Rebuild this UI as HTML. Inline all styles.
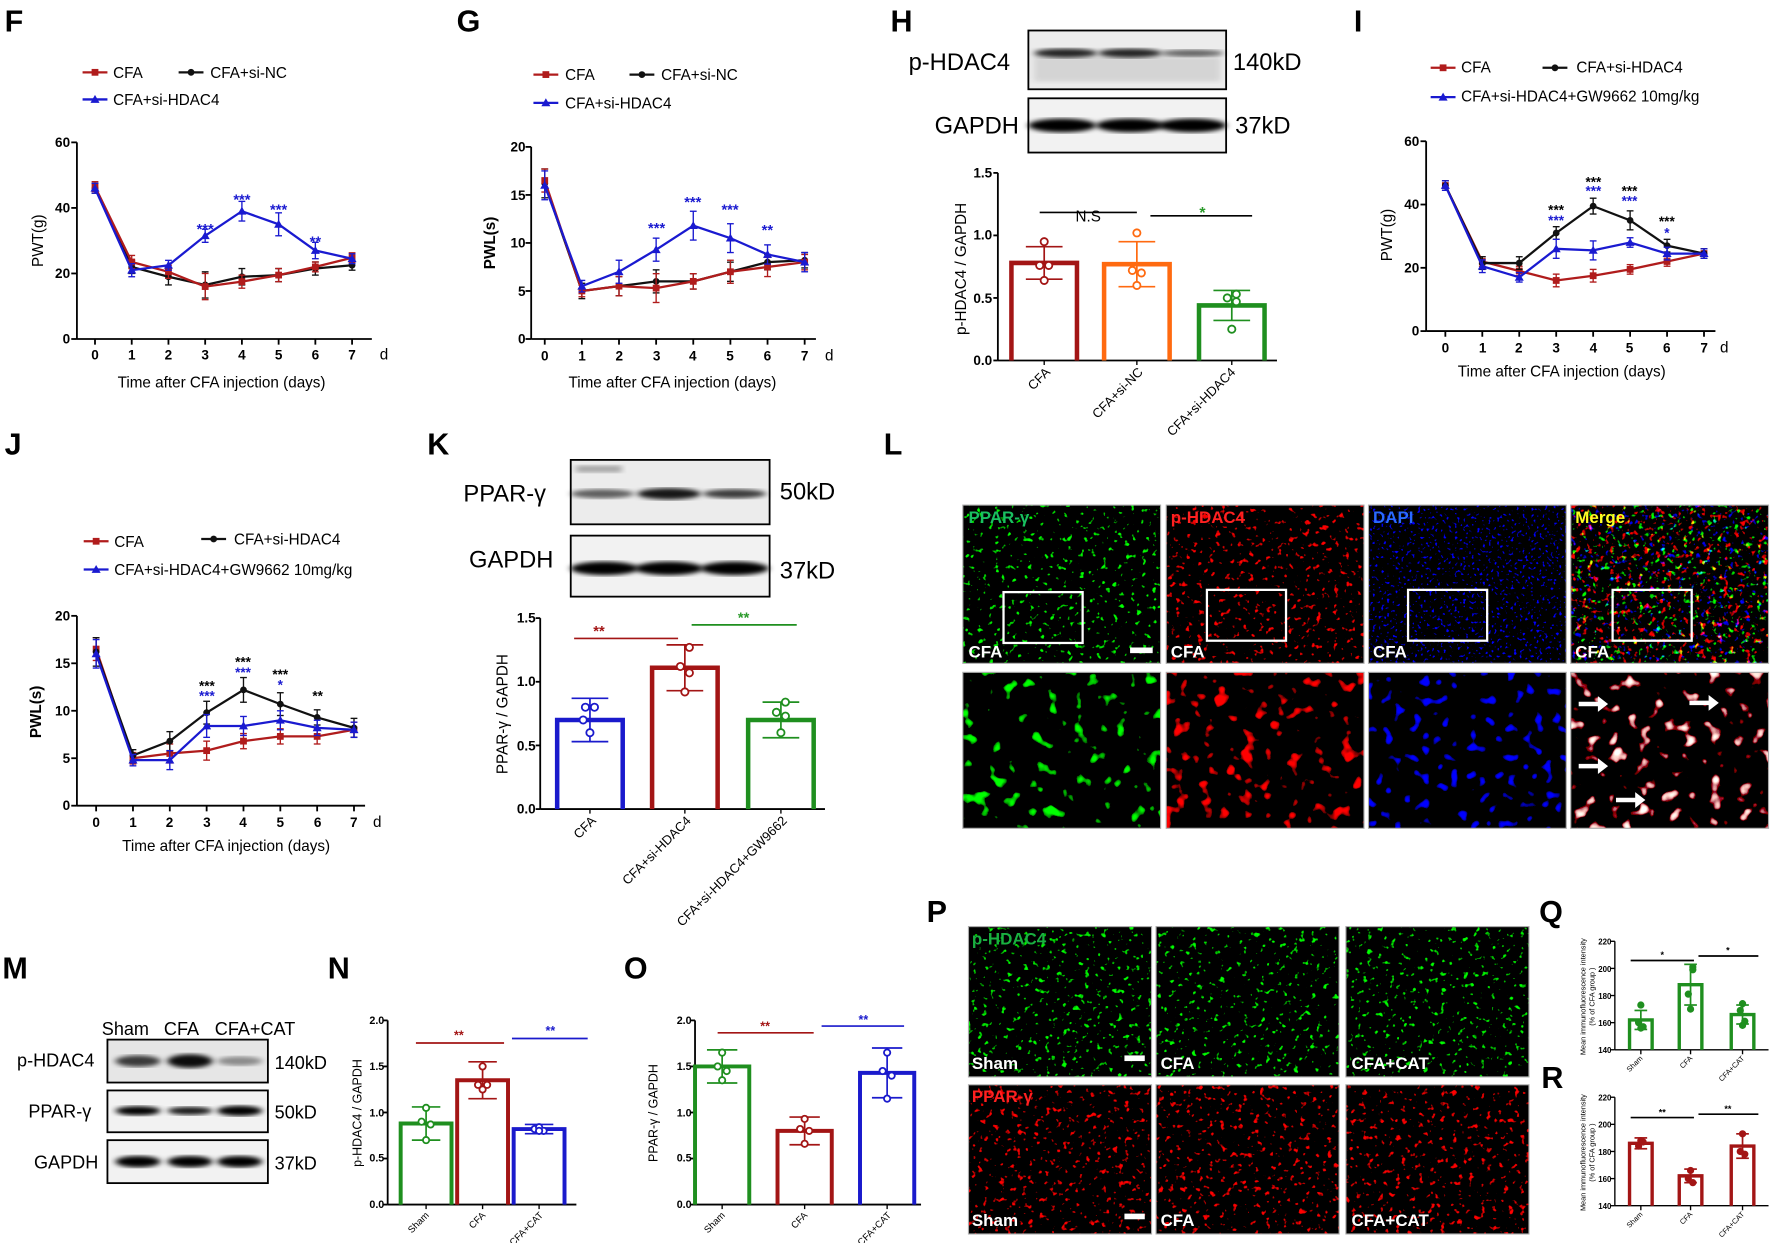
<!DOCTYPE html>
<html><head><meta charset="utf-8"><style>
html,body{margin:0;padding:0;background:#fff}
svg{display:block}
text{font-family:"Liberation Sans",Arial,sans-serif}
.L{font-size:27px;font-weight:bold}
.t{font-size:12px;font-weight:bold}
.lg{font-size:13.5px}
.ti{font-size:13.5px}
.bl{font-size:21px}
.xl{font-size:11.5px}
.im{font-weight:bold;font-size:15px}
</style></head><body>
<svg id="s" width="1772" height="1243" viewBox="0 0 1568 1100" xmlns="http://www.w3.org/2000/svg">
<defs>
<filter id="fG" x="0" y="0" width="100%" height="100%"><feTurbulence type="fractalNoise" baseFrequency="0.2" numOctaves="2" seed="2"/><feColorMatrix type="matrix" values="0 0 0 0 0  8 0 0 0 -5.3  0 0 0 0 0  0 0 0 0 1"/></filter>
<filter id="fR" x="0" y="0" width="100%" height="100%"><feTurbulence type="fractalNoise" baseFrequency="0.2" numOctaves="2" seed="5"/><feColorMatrix type="matrix" values="8 0 0 0 -5.2  0 0 0 0 0  0 0 0 0 0  0 0 0 0 1"/></filter>
<filter id="fB" x="0" y="0" width="100%" height="100%"><feTurbulence type="fractalNoise" baseFrequency="0.4" numOctaves="1" seed="7"/><feColorMatrix type="matrix" values="0 0 0 0 0  0 0 0 0 0  9 0 0 0 -5.6  0 0 0 0 1"/></filter>
<filter id="fM" x="0" y="0" width="100%" height="100%"><feTurbulence type="fractalNoise" baseFrequency="0.2" numOctaves="2" seed="9"/><feColorMatrix type="matrix" values="7 0 0 0 -4.4  0 7 0 0 -4.6  0 0 7 0 -4.7  0 0 0 0 1"/></filter>
<filter id="fB2" x="0" y="0" width="100%" height="100%"><feTurbulence type="fractalNoise" baseFrequency="0.12" numOctaves="1" seed="4"/><feColorMatrix type="matrix" values="0 0 0 0 0  0 0 0 0 0  10 0 0 0 -6.2  0 0 0 0 1"/></filter>
<filter id="fG2" x="0" y="0" width="100%" height="100%"><feTurbulence type="fractalNoise" baseFrequency="0.08" numOctaves="2" seed="3"/><feColorMatrix type="matrix" values="0 0 0 0 0  9 0 0 0 -5.8  0 0 0 0 0  0 0 0 0 1"/></filter>
<filter id="fR2" x="0" y="0" width="100%" height="100%"><feTurbulence type="fractalNoise" baseFrequency="0.08" numOctaves="2" seed="6"/><feColorMatrix type="matrix" values="9 0 0 0 -5.6  0 0 0 0 0  0 0 0 0 0  0 0 0 0 1"/></filter>
<filter id="fM2" x="0" y="0" width="100%" height="100%"><feTurbulence type="fractalNoise" baseFrequency="0.08" numOctaves="2" seed="8"/><feColorMatrix type="matrix" values="8 0 0 0 -4.9  7 0 0 0 -4.6  6 0 0 0 -3.9  0 0 0 0 1"/></filter>
<filter id="bl"><feGaussianBlur stdDeviation="3 2"/></filter>
</defs>
<g id="g"></g>
<text class="L" x="4" y="28">F</text><text class="L" x="404" y="28">G</text><text class="L" x="788" y="28">H</text><text class="L" x="1198" y="28">I</text>
<text class="L" x="4" y="402">J</text><text class="L" x="378" y="402">K</text><text class="L" x="782" y="402">L</text>
<text class="L" x="2" y="866">M</text><text class="L" x="290" y="866">N</text><text class="L" x="552" y="866">O</text><text class="L" x="820" y="816">P</text><text class="L" x="1362" y="816">Q</text><text class="L" x="1364" y="963">R</text>
<!-- F -->
<text class="lg" x="100" y="69">CFA</text><text class="lg" x="186" y="69">CFA+si-NC</text><text class="lg" x="100" y="93">CFA+si-HDAC4</text>
<g class="t" text-anchor="end"><text x="62" y="130">60</text><text x="62" y="188">40</text><text x="62" y="246">20</text><text x="62" y="304">0</text></g>
<g class="t" text-anchor="middle"><text x="84" y="318">0</text><text x="116.5" y="318">1</text><text x="149" y="318">2</text><text x="181.5" y="318">3</text><text x="214" y="318">4</text><text x="246.5" y="318">5</text><text x="279" y="318">6</text><text x="311.5" y="318">7</text></g>
<text class="lg" x="336" y="318">d</text>
<text class="ti" x="196" y="343" text-anchor="middle">Time after CFA injection (days)</text>
<text class="lg" transform="translate(38,213) rotate(-90)" text-anchor="middle">PWT(g)</text>
<g fill="#1a1ad0" font-size="13" font-weight="bold" text-anchor="middle"><text x="181.5" y="207">***</text><text x="214" y="181">***</text><text x="246.5" y="190">***</text><text x="279" y="218">**</text></g>
<!-- G -->
<text class="lg" x="500" y="71">CFA</text><text class="lg" x="585" y="71">CFA+si-NC</text><text class="lg" x="500" y="96">CFA+si-HDAC4</text>
<g class="t" text-anchor="end"><text x="465" y="134">20</text><text x="465" y="177">15</text><text x="465" y="219">10</text><text x="465" y="262">5</text><text x="465" y="304">0</text></g>
<g class="t" text-anchor="middle"><text x="482" y="319">0</text><text x="515" y="319">1</text><text x="548" y="319">2</text><text x="581" y="319">3</text><text x="613" y="319">4</text><text x="646" y="319">5</text><text x="679" y="319">6</text><text x="712" y="319">7</text></g>
<text class="lg" x="730" y="319">d</text>
<text class="ti" x="595" y="343" text-anchor="middle">Time after CFA injection (days)</text>
<text class="lg" font-weight="bold" transform="translate(438,215) rotate(-90)" text-anchor="middle">PWL(s)</text>
<g fill="#1a1ad0" font-size="13" font-weight="bold" text-anchor="middle"><text x="581" y="206">***</text><text x="613" y="183">***</text><text x="646" y="190">***</text><text x="679" y="208">**</text></g>
<!-- H -->
<text class="bl" x="804" y="62">p-HDAC4</text><text class="bl" x="1091" y="62">140kD</text><text class="bl" x="827" y="118">GAPDH</text><text class="bl" x="1093" y="118">37kD</text>
<g class="t" text-anchor="end"><text x="878" y="157">1.5</text><text x="878" y="212">1.0</text><text x="878" y="268">0.5</text><text x="878" y="323">0.0</text></g>
<text class="ti" transform="translate(855,238) rotate(-90)" text-anchor="middle">p-HDAC4 / GAPDH</text>
<g class="xl" text-anchor="end"><text transform="translate(930,330) rotate(-45)">CFA</text><text transform="translate(1012,330) rotate(-45)">CFA+si-NC</text><text transform="translate(1094,330) rotate(-45)">CFA+si-HDAC4</text></g>
<text class="lg" x="963" y="196" text-anchor="middle">N.S</text><text x="1064" y="193" fill="#2a9a2a" font-weight="bold" font-size="14" text-anchor="middle">*</text>
<!-- I -->
<text class="lg" x="1293" y="64">CFA</text><text class="lg" x="1395" y="64">CFA+si-HDAC4</text><text class="lg" x="1293" y="90">CFA+si-HDAC4+GW9662 10mg/kg</text>
<g class="t" text-anchor="end"><text x="1256" y="129">60</text><text x="1256" y="185">40</text><text x="1256" y="241">20</text><text x="1256" y="297">0</text></g>
<g class="t" text-anchor="middle"><text x="1279" y="312">0</text><text x="1312" y="312">1</text><text x="1344" y="312">2</text><text x="1377" y="312">3</text><text x="1410" y="312">4</text><text x="1442" y="312">5</text><text x="1475" y="312">6</text><text x="1508" y="312">7</text></g>
<text class="lg" x="1522" y="312">d</text>
<text class="ti" x="1382" y="333" text-anchor="middle">Time after CFA injection (days)</text>
<text class="lg" transform="translate(1232,208) rotate(-90)" text-anchor="middle">PWT(g)</text>
<g font-size="12" font-weight="bold" text-anchor="middle"><text x="1377" y="190">***</text><text x="1410" y="165">***</text><text x="1442" y="173">***</text><text x="1475" y="200">***</text></g>
<g fill="#1a1ad0" font-size="12" font-weight="bold" text-anchor="middle"><text x="1377" y="199">***</text><text x="1410" y="173">***</text><text x="1442" y="182">***</text><text x="1475" y="210">*</text></g>
<!-- J -->
<text class="lg" x="101" y="484">CFA</text><text class="lg" x="207" y="482">CFA+si-HDAC4</text><text class="lg" x="101" y="509">CFA+si-HDAC4+GW9662 10mg/kg</text>
<g class="t" text-anchor="end"><text x="62" y="549">20</text><text x="62" y="591">15</text><text x="62" y="633">10</text><text x="62" y="675">5</text><text x="62" y="717">0</text></g>
<g class="t" text-anchor="middle"><text x="85" y="732">0</text><text x="117.6" y="732">1</text><text x="150" y="732">2</text><text x="183" y="732">3</text><text x="215" y="732">4</text><text x="248" y="732">5</text><text x="281" y="732">6</text><text x="313" y="732">7</text></g>
<text class="lg" x="330" y="732">d</text>
<text class="ti" x="200" y="753" text-anchor="middle">Time after CFA injection (days)</text>
<text class="lg" font-weight="bold" transform="translate(36,630) rotate(-90)" text-anchor="middle">PWL(s)</text>
<g font-size="12" font-weight="bold" text-anchor="middle"><text x="183" y="611">***</text><text x="215" y="590">***</text><text x="248" y="601">***</text><text x="281" y="620">**</text></g>
<g fill="#1a1ad0" font-size="12" font-weight="bold" text-anchor="middle"><text x="183" y="620">***</text><text x="215" y="599">***</text><text x="248" y="610">*</text></g>
<!-- K -->
<text class="bl" x="410" y="444">PPAR-γ</text><text class="bl" x="690" y="442">50kD</text><text class="bl" x="415" y="502">GAPDH</text><text class="bl" x="690" y="512">37kD</text>
<g class="t" text-anchor="end"><text x="474" y="551">1.5</text><text x="474" y="607">1.0</text><text x="474" y="664">0.5</text><text x="474" y="720">0.0</text></g>
<text class="ti" transform="translate(449,632) rotate(-90)" text-anchor="middle">PPAR-γ / GAPDH</text>
<g class="xl" text-anchor="end"><text transform="translate(528,727) rotate(-45)">CFA</text><text transform="translate(612,727) rotate(-45)">CFA+si-HDAC4</text><text transform="translate(697,727) rotate(-45)">CFA+si-HDAC4+GW9662</text></g>
<text x="530" y="563" fill="#a31515" font-weight="bold" font-size="13" text-anchor="middle">**</text><text x="658" y="551" fill="#2a9a2a" font-weight="bold" font-size="13" text-anchor="middle">**</text>
<!-- M -->
<g font-size="16"><text x="90" y="916">Sham</text><text x="145" y="916">CFA</text><text x="190" y="916">CFA+CAT</text>
<text x="15" y="944">p-HDAC4</text><text x="25" y="989">PPAR-γ</text><text x="30" y="1034">GAPDH</text>
<text x="243" y="946">140kD</text><text x="243" y="990">50kD</text><text x="243" y="1035">37kD</text></g>
<!-- N -->
<g font-size="9.5" font-weight="bold" text-anchor="end"><text x="340" y="906">2.0</text><text x="340" y="947">1.5</text><text x="340" y="988">1.0</text><text x="340" y="1028">0.5</text><text x="340" y="1069">0.0</text></g>
<text font-size="11" transform="translate(320,985) rotate(-90)" text-anchor="middle">p-HDAC4 / GAPDH</text>
<g font-size="8.5" text-anchor="end"><text transform="translate(380,1076) rotate(-45)">Sham</text><text transform="translate(430,1076) rotate(-45)">CFA</text><text transform="translate(481,1076) rotate(-45)">CFA+CAT</text></g>
<text x="406" y="920" fill="#a31515" font-weight="bold" font-size="11" text-anchor="middle">**</text><text x="487" y="916" fill="#1a1acc" font-weight="bold" font-size="11" text-anchor="middle">**</text>
<!-- O -->
<g font-size="9.5" font-weight="bold" text-anchor="end"><text x="612" y="906">2.0</text><text x="612" y="947">1.5</text><text x="612" y="988">1.0</text><text x="612" y="1028">0.5</text><text x="612" y="1069">0.0</text></g>
<text font-size="11" transform="translate(582,985) rotate(-90)" text-anchor="middle">PPAR-γ / GAPDH</text>
<g font-size="8.5" text-anchor="end"><text transform="translate(642,1076) rotate(-45)">Sham</text><text transform="translate(715,1076) rotate(-45)">CFA</text><text transform="translate(789,1076) rotate(-45)">CFA+CAT</text></g>
<text x="677" y="912" fill="#a31515" font-weight="bold" font-size="11" text-anchor="middle">**</text><text x="764" y="906" fill="#1a1acc" font-weight="bold" font-size="11" text-anchor="middle">**</text>
<!-- Q R -->
<g font-size="7" font-weight="bold" text-anchor="end"><text x="1426" y="836">220</text><text x="1426" y="860">200</text><text x="1426" y="884">180</text><text x="1426" y="908">160</text><text x="1426" y="932">140</text>
<text x="1426" y="974">220</text><text x="1426" y="998">200</text><text x="1426" y="1022">180</text><text x="1426" y="1046">160</text><text x="1426" y="1070">140</text></g>
<g font-size="6.5" text-anchor="middle"><text transform="translate(1403,882) rotate(-90)">Mean immunofluorescence intensity</text><text transform="translate(1411,882) rotate(-90)">(% of CFA group )</text>
<text transform="translate(1403,1020) rotate(-90)">Mean immunofluorescence intensity</text><text transform="translate(1411,1020) rotate(-90)">(% of CFA group )</text></g>
<g font-size="6.5" text-anchor="end"><text transform="translate(1454,937) rotate(-45)">Sham</text><text transform="translate(1498,937) rotate(-45)">CFA</text><text transform="translate(1544,937) rotate(-45)">CFA+CAT</text>
<text transform="translate(1454,1075) rotate(-45)">Sham</text><text transform="translate(1498,1075) rotate(-45)">CFA</text><text transform="translate(1544,1075) rotate(-45)">CFA+CAT</text></g>
<g font-size="8" font-weight="bold" text-anchor="middle"><text x="1471" y="848">*</text><text x="1529" y="844">*</text><text x="1471" y="987">**</text><text x="1529" y="984">**</text></g>
<g id="top"></g>
<g class="im" fill="#fff"><text x="857" y="582">CFA</text><text x="1036" y="582">CFA</text><text x="1215" y="582">CFA</text><text x="1394" y="582">CFA</text></g>
<g class="im"><text x="857" y="463" fill="#19c060">PPAR-γ</text><text x="1036" y="463" fill="#ff2020">p-HDAC4</text><text x="1215" y="463" fill="#2a6aff">DAPI</text><text x="1394" y="463" fill="#ffff20">Merge</text>
<text x="860" y="836" fill="#19b040">p-HDAC4</text><text x="860" y="975" fill="#ff2020">PPAR-γ</text></g>
<g class="im" fill="#fff"><text x="860" y="946">Sham</text><text x="1027" y="946">CFA</text><text x="1196" y="946">CFA+CAT</text><text x="860" y="1085">Sham</text><text x="1027" y="1085">CFA</text><text x="1196" y="1085">CFA+CAT</text></g>
</svg>
<script>
var NS="http://www.w3.org/2000/svg",G=document.getElementById('g'),T=document.getElementById('top');
function el(t,a,p){var e=document.createElementNS(NS,t);for(var k in a)e.setAttribute(k,a[k]);(p||G).appendChild(e);return e;}
function ln(x1,y1,x2,y2,c,w,p){el('line',{x1:x1,y1:y1,x2:x2,y2:y2,stroke:c||'#000','stroke-width':w||1.6},p);}
var R='#b01c1c',K='#111',B='#1a1ad0';
function mk(x,y,c,m){if(m=='s')el('rect',{x:x-3,y:y-3,width:6,height:6,fill:c});else if(m=='c')el('circle',{cx:x,cy:y,r:3,fill:c});else el('path',{d:'M'+x+' '+(y-4)+'L'+(x+4)+' '+(y+3)+'L'+(x-4)+' '+(y+3)+'Z',fill:c});}
function lc(o){ln(o.ax,o.yt,o.ax,o.y0);ln(o.ax,o.y0,o.end,o.y0);
 for(var i=0;i<=o.nt;i++){var y=o.y0-(o.y0-o.yt)*i/o.nt;ln(o.ax-5,y,o.ax,y);}
 for(i=0;i<8;i++){var x=o.x0+o.dx*i;ln(x,o.y0,x,o.y0+5);}
 var sc=(o.y0-o.yt)/o.vm;
 o.s.forEach(function(s){var pts=s.v.map(function(v,i){return [o.x0+o.dx*i,o.y0-v*sc];});
  pts.forEach(function(p,i){var e=(s.e?s.e[i]:1.5)*sc;ln(p[0],p[1]-e,p[0],p[1]+e,s.c,1.2);ln(p[0]-3,p[1]-e,p[0]+3,p[1]-e,s.c,1.2);ln(p[0]-3,p[1]+e,p[0]+3,p[1]+e,s.c,1.2);});
  el('polyline',{points:pts.map(function(p){return p.join(',')}).join(' '),fill:'none',stroke:s.c,'stroke-width':2});
  pts.forEach(function(p){mk(p[0],p[1],s.c,s.m);});});}
function leg(x,y,c,m){ln(x,y,x+22,y,c,2);mk(x+11,y,c,m);}
lc({ax:68,yt:126,y0:300,x0:84,dx:32.5,end:329,nt:3,vm:60,s:[
{c:K,m:'c',v:[46,22,19,16.5,19,19.5,21.5,22.5],e:[1.5,2,2.5,4,2.5,2,2,1.5]},
{c:R,m:'s',v:[46.5,23.5,20.5,16,17.5,19.5,22,24.8],e:[1.5,2,2,4,2,2,1.5,1.5]},
{c:B,m:'t',v:[46,21,22.5,31.5,39,35,27,24.5],e:[1.5,2,1.5,2,3,3.5,2.5,1.5]}]});
leg(73,64,R,'s');leg(158,64,K,'c');leg(73,88,B,'t');
lc({ax:470,yt:130,y0:300,x0:482,dx:32.86,end:722,nt:4,vm:20,s:[
{c:K,m:'c',v:[16.2,5,5.5,6,6,7,8,8.2],e:[1.5,.8,1,1.2,.8,1,.8,.8]},
{c:R,m:'s',v:[16.5,5,5.5,5.3,6,7,7.5,8],e:[1.2,.6,1,1.5,.8,1.2,1,.8]},
{c:B,m:'t',v:[16,5.5,7,9.3,11.8,10.5,8.8,8],e:[1.5,.6,1.2,1.2,1.5,1.5,1,1]}]});
leg(472,66,R,'s');leg(557,66,K,'c');leg(472,91,B,'t');
lc({ax:1262,yt:125,y0:293,x0:1279,dx:32.7,end:1518,nt:3,vm:60,s:[
{c:R,m:'s',v:[46,22,19,16,17.5,19.5,22,24.5],e:[1.5,1.5,1.5,2,2,1.5,1.5,1.5]},
{c:K,m:'c',v:[46,21.5,21.5,31,39.5,35,27,24.5],e:[1.5,2,2,2,2.5,3,2,1.5]},
{c:B,m:'t',v:[46,20.5,17,26,25.5,28,24.5,24.5],e:[1.5,2,1.5,3,3,1.5,2,1.5]}]});
leg(1266,60,R,'s');leg(1365,60,K,'c');leg(1266,86,B,'t');
lc({ax:68,yt:545,y0:713,x0:85,dx:32.6,end:323,nt:4,vm:20,s:[
{c:R,m:'s',v:[16.5,5,5.5,5.8,6.8,7.3,7.3,8],e:[1.2,.6,1,1,.8,.8,.8,.8]},
{c:K,m:'c',v:[16.2,5.3,6.8,9.8,12.2,10.7,9.3,8.2],e:[1.5,.6,1,1.2,1.3,1.2,.8,1]},
{c:B,m:'t',v:[16,4.8,4.8,8.4,8.4,9,8.2,8],e:[1.5,.6,1,1.2,1,1,.8,.8]}]});
leg(74,479,R,'s');leg(178,477,K,'c');leg(74,504,B,'t');
function bc(o){ln(o.ax,o.yt,o.ax,o.y0,'#000',o.lw||1.6);ln(o.ax,o.y0,o.end,o.y0,'#000',o.lw||1.6);
 for(var i=0;i<=o.nt;i++){var y=o.y0-(o.y0-o.yt)*i/o.nt;ln(o.ax-4,y,o.ax,y,'#000',o.lw||1.6);}
 var sc=(o.y0-o.yt)/(o.vm-o.vmin);
 o.b.forEach(function(b){var y=o.y0-(b.v-o.vmin)*sc,sw=o.sw||4;
  el('path',{d:'M'+(b.x-o.w/2)+' '+o.y0+'V'+y+'H'+(b.x+o.w/2)+'V'+o.y0,fill:'none',stroke:b.c,'stroke-width':sw});
  var e=b.e*sc;ln(b.x,y-e,b.x,y+e,b.c,1.5);ln(b.x-o.w*0.28,y-e,b.x+o.w*0.28,y-e,b.c,1.5);ln(b.x-o.w*0.28,y+e,b.x+o.w*0.28,y+e,b.c,1.5);
  ln(b.x,o.y0,b.x,o.y0+4,'#000',1.2);
  b.p.forEach(function(p){el('circle',{cx:b.x+p[0],cy:o.y0-(p[1]-o.vmin)*sc,r:o.r||3.2,fill:o.fill?b.c:'#fff',stroke:b.c,'stroke-width':1.6});});});
 (o.sig||[]).forEach(function(s){ln(s[0],s[2],s[1],s[2],s[3],1.5);});}
var DR='#a31515',OR='#ff6a10',GR='#1f8f1f',BL='#1a1acc';
bc({ax:883,yt:153,y0:319,vmin:0,vm:1.5,nt:3,end:1130,w:58,b:[
{x:924,v:.78,e:.13,c:DR,p:[[0,.95],[-4,.76],[4,.76],[0,.64]]},
{x:1006,v:.77,e:.18,c:OR,p:[[0,1.02],[-4,.72],[4,.7],[0,.6]]},
{x:1090,v:.44,e:.12,c:GR,p:[[4,.53],[-4,.5],[4,.47],[0,.25]]}],sig:[[920,1006,188,'#000'],[1018,1108,191,'#000']]});
bc({ax:478,yt:547,y0:716,vmin:0,vm:1.5,nt:3,end:730,w:58,b:[
{x:522,v:.7,e:.17,c:BL,p:[[-4,.8],[4,.8],[0,.6],[-6,.7]]},
{x:606,v:1.11,e:.18,c:DR,p:[[4,1.27],[-4,1.12],[4,1.07],[0,.92]]},
{x:691,v:.7,e:.14,c:GR,p:[[4,.84],[-4,.76],[4,.73],[0,.6]]}],sig:[[508,600,565,DR],[612,705,553,GR]]});
bc({ax:343,yt:903,y0:1066,vmin:0,vm:2,nt:4,end:510,w:45,sw:3.5,r:2.8,b:[
{x:377,v:.88,e:.18,c:GR,p:[[0,1.05],[-4,.9],[4,.87],[0,.7]]},
{x:427,v:1.35,e:.2,c:DR,p:[[0,1.5],[-4,1.3],[4,1.3],[0,1.25]]},
{x:477,v:.82,e:.05,c:BL,p:[[-4,.82],[0,.84],[4,.8],[0,.8]]}],sig:[[368,446,923,DR],[453,520,919,BL]]});
bc({ax:615,yt:903,y0:1066,vmin:0,vm:2,nt:4,end:815,w:48,sw:3.5,r:2.8,b:[
{x:639,v:1.5,e:.18,c:GR,p:[[0,1.65],[-4,1.5],[4,1.45],[0,1.35]]},
{x:712,v:.8,e:.15,c:DR,p:[[0,.93],[-4,.82],[4,.8],[0,.66]]},
{x:785,v:1.43,e:.27,c:BL,p:[[0,1.65],[-4,1.45],[4,1.4],[0,1.15]]}],sig:[[635,720,914,DR],[727,800,908,BL]]});
bc({ax:1429,yt:833,y0:929,vmin:140,vm:220,nt:4,end:1565,w:20,sw:3,r:2.4,fill:1,lw:1.2,b:[
{x:1452,v:162,e:7,c:GR,p:[[0,173],[-2,160],[2,157],[0,156]]},
{x:1496,v:188,e:15,c:GR,p:[[2,199],[-2,181],[0,170],[2,201]]},
{x:1542,v:166,e:7,c:GR,p:[[0,174],[-2,169],[2,161],[0,158]]}],sig:[[1443,1499,850,'#000'],[1503,1556,846,'#000']]});
bc({ax:1429,yt:971,y0:1067,vmin:140,vm:220,nt:4,end:1565,w:20,sw:3,r:2.4,fill:1,lw:1.2,b:[
{x:1452,v:186,e:4,c:DR,p:[[0,188],[-2,184],[2,187]]},
{x:1496,v:162,e:5,c:DR,p:[[0,166],[-2,160],[2,157]]},
{x:1542,v:184,e:9,c:DR,p:[[0,193],[-2,180],[2,178]]}],sig:[[1443,1499,989,'#000'],[1503,1556,986,'#000']]});
function blot(x,y,w,h,lanes,bandY,bw,op,bg){el('rect',{x:x,y:y,width:w,height:h,fill:bg||'#f2f2f2',stroke:'#000','stroke-width':1.6});
 lanes.forEach(function(l,i){el('ellipse',{cx:l,cy:y+bandY,rx:bw,ry:op[i][1],fill:'#000','fill-opacity':op[i][0],filter:'url(#bl)'});});}
blot(910,27,175,52,[943,1000,1055],20,28,[[.85,4],[.85,4],[.6,3]],'#ececec');
el('rect',{x:915,y:50,width:165,height:22,fill:'#000','fill-opacity':.1,filter:'url(#bl)'});
blot(910,87,175,48,[940,1000,1055],24,30,[[1,6],[1,6],[1,6]]);
blot(505,407,176,57,[533,592,650],30,28,[[.6,4],[.9,5],[.75,4]],'#ececec');
el('rect',{x:510,y:412,width:40,height:6,fill:'#000','fill-opacity':.3,filter:'url(#bl)'});
blot(505,474,176,54,[535,592,650],29,30,[[1,6],[1,6],[1,6]]);
blot(95,920,142,38,[122,168,212],19,20,[[.75,5],[.95,6],[.4,4]],'#e6e6e6');
blot(95,965,142,37,[122,168,212],18,20,[[1,4],[.9,3.5],[1,4.5]]);
blot(95,1009,142,38,[122,168,212],19,20,[[1,5],[1,5],[1,5]]);
function img(x,y,w,h,f){el('rect',{x:x,y:y,width:w,height:h,fill:'#000'},T);el('rect',{x:x,y:y,width:w,height:h,filter:'url(#'+f+')'},T);el('rect',{x:x,y:y,width:w,height:h,fill:'none',stroke:'#aaa','stroke-width':1},T);}
var cx=[852,1032,1211,1390];['fG','fR','fB','fM'].forEach(function(f,i){img(cx[i],447,175,140,f);});
['fG2','fR2','fB2','fM2'].forEach(function(f,i){img(cx[i],595,175,138,f);});
[[888,524],[1068,522],[1246,522],[1427,522]].forEach(function(p){el('rect',{x:p[0],y:p[1],width:70,height:45,fill:'none',stroke:'#fff','stroke-width':2},T);});
el('rect',{x:1000,y:573,width:20,height:5,fill:'#fff'},T);
[[1397,623],[1397,678],[1430,708],[1495,622]].forEach(function(p){ln(p[0],p[1],p[0]+20,p[1],'#fff',4,T);el('path',{d:'M'+(p[0]+26)+' '+p[1]+'l-9 -7v14z',fill:'#fff'},T);});
[857,1023,1191].forEach(function(x){img(x,820,162,133,'fG');img(x,960,162,132,'fR');});
el('rect',{x:995,y:934,width:18,height:5,fill:'#fff'},T);el('rect',{x:995,y:1074,width:18,height:5,fill:'#fff'},T);
</script>
</body></html>
